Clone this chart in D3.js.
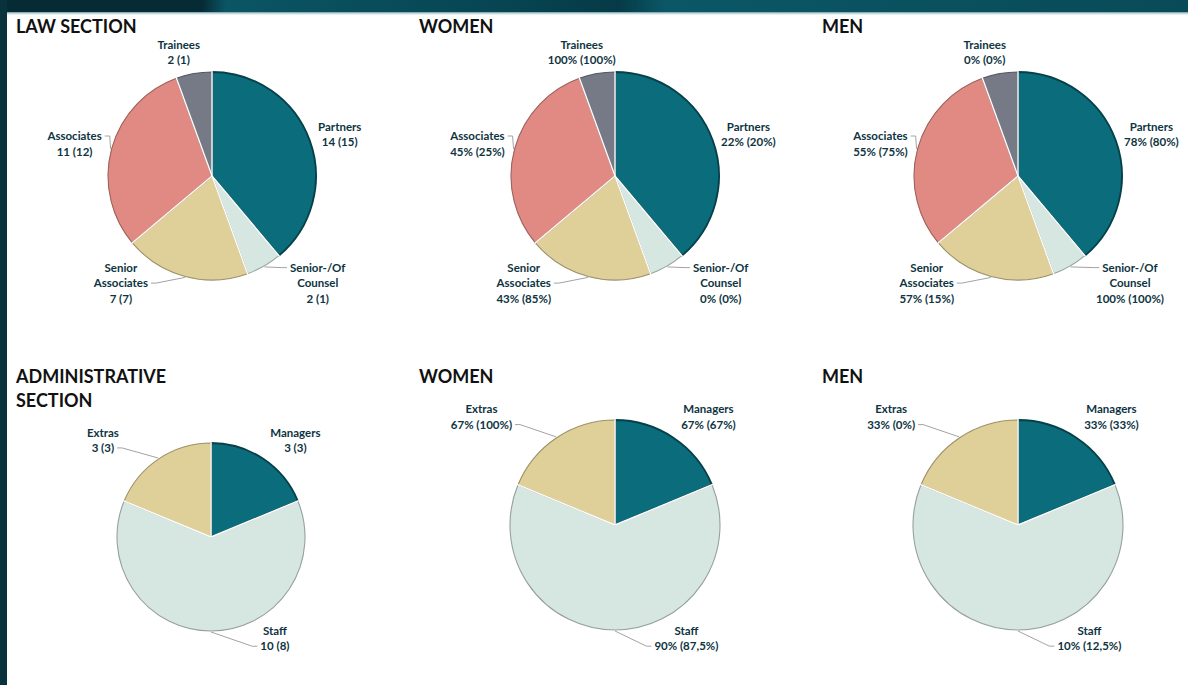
<!DOCTYPE html>
<html>
<head>
<meta charset="utf-8">
<title>Law / Administrative section</title>
<script src="https://cdnjs.cloudflare.com/ajax/libs/d3/7.8.5/d3.min.js"></script>
<style>
  body { margin: 0; background: #fff; overflow: hidden; }
  #container svg text { font-family: Lato, 'Open Sans', sans-serif; }
</style>
</head>
<body>
<div id="container"></div>
<script>
// ---- data ----
var lawCategories     = ["Partners", "Senior-/Of Counsel", "Senior Associates", "Associates", "Trainees"];
var lawCounts         = [14, 2, 7, 11, 2];
var lawPrevCounts     = [15, 1, 7, 12, 1];
var lawWomenPct       = [22, 0, 43, 45, 100];
var lawWomenPrevPct   = [20, 0, 85, 25, 100];
var lawMenPct         = [78, 100, 57, 55, 0];
var lawMenPrevPct     = [80, 100, 15, 75, 0];

var adminCategories   = ["Managers", "Staff", "Extras"];
var adminCounts       = [3, 10, 3];
var adminPrevCounts   = [3, 8, 3];
var adminWomenPct     = [67, 90, 67];
var adminWomenPrevPct = [67, 87.5, 100];
var adminMenPct       = [33, 10, 33];
var adminMenPrevPct   = [33, 12.5, 0];

// ---- styling / layout ----
var sliceColor = {
  "Partners": "#0b6d7c",
  "Managers": "#0b6d7c",
  "Senior-/Of Counsel": "#d6e6e0",
  "Staff": "#d6e6e0",
  "Senior Associates": "#dfcf98",
  "Extras": "#dfcf98",
  "Associates": "#e08a83",
  "Trainees": "#767a87"
};

// label placement, in units of pie radius relative to the pie centre
var lawLabelLayout = {
  "Partners":           { x: 1.02,  y: -0.40, anchor: "start",  leader: false },
  "Senior-/Of Counsel": { x: 0.75,  y: 1.03,  anchor: "start",  leader: true, line: 0 },
  "Senior Associates":  { x: -0.615, y: 1.03, anchor: "end",    leader: true, line: 1 },
  "Associates":         { x: -1.06, y: -0.31, anchor: "end",    leader: true, line: 0 },
  "Trainees":           { x: -0.32, y: -1.19, anchor: "middle", leader: false }
};
var adminLabelLayout = {
  "Managers": { x: 0.63,  y: -1.03, anchor: "start",  leader: false },
  "Staff":    { x: 0.68,  y: 1.08,  anchor: "middle", leader: true, line: 1 },
  "Extras":   { x: -0.98, y: -1.03, anchor: "end",    leader: true, line: 1 }
};

var colX = [0, 403, 806];
var LH = 15.5;

function fmtPct(v) { return String(v).replace(".", ",") + "%"; }
function countLabel(cur, prev) { return function (i) { return cur[i] + " (" + prev[i] + ")"; }; }
function pctLabel(cur, prev) { return function (i) { return fmtPct(cur[i]) + " (" + fmtPct(prev[i]) + ")"; }; }

function splitName(name) {
  if (name.length <= 12) return [name];
  var k = name.lastIndexOf(" ");
  return [name.slice(0, k), name.slice(k + 1)];
}

var charts = [
  { title: ["LAW SECTION"], col: 0, cy: 176, r: 104, cats: lawCategories, values: lawCounts, layout: lawLabelLayout, label: countLabel(lawCounts, lawPrevCounts) },
  { title: ["WOMEN"], col: 1, cy: 176, r: 104, cats: lawCategories, values: lawCounts, layout: lawLabelLayout, label: pctLabel(lawWomenPct, lawWomenPrevPct) },
  { title: ["MEN"], col: 2, cy: 176, r: 104, cats: lawCategories, values: lawCounts, layout: lawLabelLayout, label: pctLabel(lawMenPct, lawMenPrevPct) },
  { title: ["ADMINISTRATIVE", "SECTION"], col: 0, cy: 537, r: 94, cats: adminCategories, values: adminCounts, layout: adminLabelLayout, label: countLabel(adminCounts, adminPrevCounts) },
  { title: ["WOMEN"], col: 1, cy: 525, r: 105, cats: adminCategories, values: adminCounts, layout: adminLabelLayout, label: pctLabel(adminWomenPct, adminWomenPrevPct) },
  { title: ["MEN"], col: 2, cy: 525, r: 105, cats: adminCategories, values: adminCounts, layout: adminLabelLayout, label: pctLabel(adminMenPct, adminMenPrevPct) }
];
var titleBaseline = [33, 383];

var width = 1188, height = 685;
var svg = d3.select("#container").append("svg").attr("width", width).attr("height", height);

// ---- frame ----
var defs = svg.append("defs");
var band = defs.append("linearGradient").attr("id", "band").attr("x1", 0).attr("x2", 1).attr("y1", 0).attr("y2", 0);
[[0, "#062b34"], [0.17, "#062b34"], [0.19, "#0b5565"], [0.42, "#074553"], [0.52, "#063a46"], [0.56, "#0b5767"], [1, "#094a58"]]
  .forEach(function (s) { band.append("stop").attr("offset", s[0]).attr("stop-color", s[1]); });
var fade = defs.append("linearGradient").attr("id", "fade").attr("x1", 0).attr("x2", 0).attr("y1", 0).attr("y2", 1);
fade.append("stop").attr("offset", 0).attr("stop-color", "#3f7d8a").attr("stop-opacity", 0.8);
fade.append("stop").attr("offset", 1).attr("stop-color", "#ffffff").attr("stop-opacity", 0);

svg.append("rect").attr("width", width).attr("height", height).attr("fill", "#fff");
svg.append("rect").attr("width", width).attr("height", 12).attr("fill", "url(#band)");
svg.append("rect").attr("y", 12).attr("width", width).attr("height", 4).attr("fill", "url(#fade)");
svg.append("rect").attr("width", 7).attr("height", height).attr("fill", "#0a323c");

// ---- charts ----
charts.forEach(function (spec, ci) {
  var row = ci < 3 ? 0 : 1;
  var x0 = colX[spec.col];

  var title = svg.append("text")
    .attr("x", x0 + 16).attr("y", titleBaseline[row])
    .attr("fill", "#111").style("font-size", "18px").style("font-weight", 700);
  spec.title.forEach(function (t, j) {
    title.append("tspan").attr("x", x0 + 16).attr("dy", j ? 24 : 0).text(t);
  });

  var g = svg.append("g").attr("transform", "translate(" + (x0 + 212 - (spec.r < 100 ? 1 : 0)) + "," + spec.cy + ")");
  var arcs = d3.pie().sort(null).value(function (d) { return d; })(spec.values);
  var arc = d3.arc().innerRadius(0).outerRadius(spec.r);

  g.selectAll("path.slice").data(arcs).join("path")
    .attr("class", "slice")
    .attr("d", arc)
    .attr("fill", function (d, i) { return sliceColor[spec.cats[i]]; })
    .attr("stroke", function (d, i) {
      var c = d3.color(sliceColor[spec.cats[i]]);
      return d3.hsl(c).l < 0.4 ? c.darker(1.5) : c.darker(1.0);
    })
    .attr("stroke-width", function (d, i) { return d3.hsl(sliceColor[spec.cats[i]]).l < 0.4 ? 1.8 : 1.1; })
    .attr("stroke-linejoin", "round");

  // white separators between slices
  g.selectAll("line.sep").data(arcs).join("line")
    .attr("class", "sep")
    .attr("x1", 0).attr("y1", 0)
    .attr("x2", function (d) { return Math.sin(d.startAngle) * (spec.r + 1); })
    .attr("y2", function (d) { return -Math.cos(d.startAngle) * (spec.r + 1); })
    .attr("stroke", "#fff").attr("stroke-width", 1.4);

  arcs.forEach(function (d, i) {
    var cat = spec.cats[i], lay = spec.layout[cat];
    var lines = splitName(cat).concat([spec.label(i)]);
    var n = lines.length;
    var lab = g.append("g").attr("class", "label");
    var texts = lines.map(function (t) {
      return lab.append("text").text(t)
        .attr("text-anchor", "middle").attr("dy", "0.36em")
        .attr("fill", "#0e3441").style("font-size", "11.5px").style("font-weight", 700);
    });
    var widths = texts.map(function (t) { return t.node().getComputedTextLength(); });
    var w = d3.max(widths);
    var ax = lay.x * spec.r, yc = lay.y * spec.r;
    var cx = lay.anchor === "start" ? ax + w / 2 : lay.anchor === "end" ? ax - w / 2 : ax;
    texts.forEach(function (t, j) {
      t.attr("x", cx).attr("y", yc + (j - (n - 1) / 2) * LH);
    });

    if (lay.leader) {
      var mid = (d.startAngle + d.endAngle) / 2;
      var p0 = [Math.sin(mid) * (spec.r + 1), -Math.cos(mid) * (spec.r + 1)];
      var ty = yc + (lay.line - (n - 1) / 2) * LH;
      var side = lay.anchor === "start" ? 1 : lay.anchor === "end" ? -1 : (cx >= p0[0] ? 1 : -1);
      var nearX = cx - side * (widths[lay.line] / 2 + 3);
      var p1 = [nearX - side * 5, ty];
      lab.insert("polyline", "text")
        .attr("points", [p0, p1, [nearX, ty]].map(function (p) { return p.join(","); }).join(" "))
        .attr("fill", "none").attr("stroke", "#a3a3a3").attr("stroke-width", 1);
    }
  });
});
</script>
</body>
</html>
